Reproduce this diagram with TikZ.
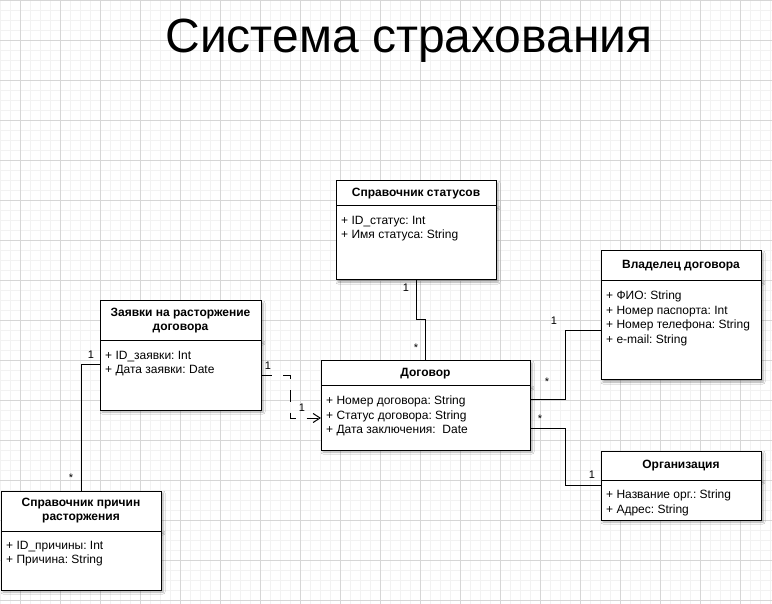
\documentclass[tikz,border=0pt]{standalone}
\usepackage{fontspec}
\setmainfont{Liberation Sans}
\usetikzlibrary{arrows.meta,positioning,shadows.blur}
\frenchspacing

\begin{document}
\begin{tikzpicture}[
  x=1pt,y=-1pt,
  font=\fontsize{12}{14.5}\selectfont,
  boxshadow/.style={blur shadow={shadow xshift=2pt, shadow yshift=-2pt, shadow blur steps=4, shadow blur radius=2pt, shadow opacity=35}},
  head/.style={draw=black, line width=1pt, fill=white, outer sep=0pt, inner sep=0pt, align=center, anchor=north west, font=\fontsize{12}{14}\selectfont\bfseries, boxshadow},
  body/.style={draw=black, line width=1pt, fill=white, outer sep=0pt, inner sep=0pt, boxshadow},
  attr/.style={anchor=north west, align=left, inner xsep=5pt, inner ysep=10pt},
  title/.style={font=\fontsize{48}{52}\selectfont, anchor=base},
  mult/.style={font=\fontsize{11}{12}\selectfont, inner sep=1pt},
  conn/.style={draw=black, line width=1pt},
  dep/.style={conn, dash pattern=on 11pt off 11pt, -{Straight Barb[length=7pt,width=9pt]}},
  minorgrid/.style={draw=black!5, line width=0.4pt},
  majorgrid/.style={draw=black!16, line width=0.4pt}
]
\useasboundingbox (0,0) rectangle (772,604);

% background grid
\fill[white] (0,0) rectangle (772,604);
\begin{scope}
  \clip (0,0) rectangle (772,604);
  \draw[minorgrid] (0,0) grid[step=10pt] (780,610);
  \draw[majorgrid, xshift=20pt] (-40,0) grid[step=40pt] (780,610);
\end{scope}

% title
\node[title] (title) at (409,53) {Система страхования};

% classes
\node[head, minimum width=160, minimum height=25] (st) at (336,181) {Справочник статусов};
\node[body, minimum width=160, minimum height=74, below=0pt of st] (stb) {};
\node[attr] (stt) at (stb.north west) {+ ID\_статус: Int\\+ Имя статуса: String};

\node[head, minimum width=161, minimum height=40] (zv) at (100,301) {Заявки на расторжение\\договора};
\node[body, minimum width=161, minimum height=69, below=0pt of zv] (zb) {};
\node[attr] (zt) at (zb.north west) {+ ID\_заявки: Int\\+ Дата заявки: Date};

\node[head, minimum width=209, minimum height=25] (dg) at (321,361) {Договор};
\node[body, minimum width=209, minimum height=64, below=0pt of dg] (db) {};
\node[attr] (dt) at (db.north west) {+ Номер договора: String\\+ Статус договора: String\\+ Дата заключения:~~Date};

\node[head, minimum width=160, minimum height=30] (vl) at (601,251) {Владелец договора};
\node[body, minimum width=160, minimum height=99, below=0pt of vl] (vb) {};
\node[attr] (vt) at (vb.north west) {+ ФИО: String\\+ Номер паспорта: Int\\+ Номер телефона: String\\+ e-mail: String};

\node[head, minimum width=160, minimum height=29] (og) at (601,451) {Организация};
\node[body, minimum width=160, minimum height=40, below=0pt of og] (ob) {};
\node[attr] (ot) at (ob.north west) {+ Название орг.: String\\+ Адрес: String};

\node[head, minimum width=160, minimum height=40] (pr) at (1,491) {Справочник причин\\расторжения};
\node[body, minimum width=160, minimum height=59, below=0pt of pr] (pb) {};
\node[attr] (pt) at (pb.north west) {+ ID\_причины: Int\\+ Причина: String};

% connectors
\draw[conn] (stb.south) -- ++(0,40) -| (dg.north);
\draw[dep] (zb.east) -- ++(29,0) |- (db.west);
\draw[conn] ([yshift=11pt]zb.west) -| (pr.north);
\draw[conn] ([yshift=18pt]db.east) -- ++(35,0) |- (vb.west);
\draw[conn] ([yshift=-10pt]db.east) -- ++(35,0) |- ([yshift=15pt]ob.west);

% multiplicities
\node[mult] at (406,288) {1};
\node[mult] at (416,348) {*};
\node[mult] at (268,366) {1};
\node[mult] at (302,408) {1};
\node[mult] at (91,355) {1};
\node[mult] at (71,478) {*};
\node[mult] at (554,321) {1};
\node[mult] at (547,382) {*};
\node[mult] at (540,419) {*};
\node[mult] at (592,475) {1};

\end{tikzpicture}
\end{document}
